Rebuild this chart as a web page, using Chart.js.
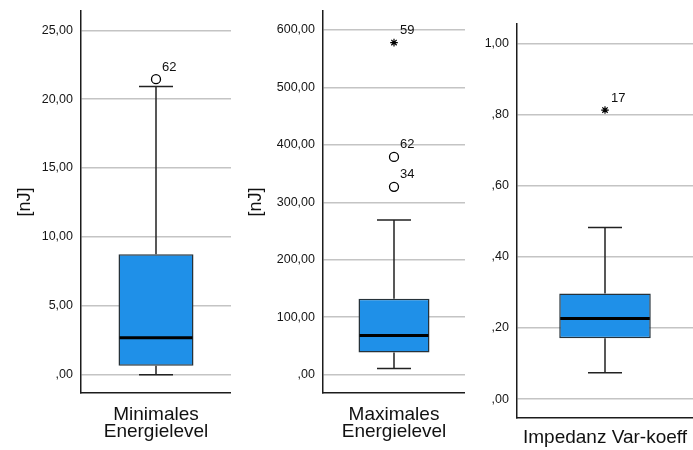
<!DOCTYPE html>
<html lang="de">
<head>
  <meta charset="UTF-8" />
  <title>Energielevel und Impedanz</title>
  <script src="https://cdn.jsdelivr.net/npm/chart.js"></script>
  <style>
    body {
      margin: 0;
      background: #ffffff;
      font-family: "Liberation Sans", Arial, sans-serif;
    }
    .panel {
      position: absolute;
      top: 0;
      height: 450px;
    }
    #p1 { left: 0; width: 231px; }
    #p2 { left: 231px; width: 234px; }
    #p3 { left: 465px; width: 228px; }
  </style>
</head>
<body>
  <div class="panel" id="p1"><canvas id="chartMin"></canvas></div>
  <div class="panel" id="p2"><canvas id="chartMax"></canvas></div>
  <div class="panel" id="p3"><canvas id="chartImp"></canvas></div>

  <script>
    // variables
    const categories = [["Minimales", "Energielevel"], ["Maximales", "Energielevel"], "Impedanz Var-koeff"];
    const axisTitles = ["[nJ]", "[nJ]", ""];

    // box statistics per variable
    const whiskerLow = [0, 10.5, 0.074];
    const q1 = [0.65, 38.3, 0.171];
    const median = [2.68, 68, 0.227];
    const q3 = [8.75, 131.9, 0.297];
    const whiskerHigh = [20.92, 269, 0.483];

    // outliers (case number, value, marker)
    const outliersMin = [{ id: "62", value: 21.45, style: "circle" }];
    const outliersMax = [
      { id: "59", value: 578, style: "star" },
      { id: "62", value: 379, style: "circle" },
      { id: "34", value: 327, style: "circle" }
    ];
    const outliersImp = [{ id: "17", value: 0.813, style: "star" }];

    // y axis ticks and ranges
    const ticksMin = [0, 5, 10, 15, 20, 25];
    const ticksMax = [0, 100, 200, 300, 400, 500, 600];
    const ticksImp = [0, 0.2, 0.4, 0.6, 0.8, 1.0];
    const rangeMin = [-1.33, 26.4];
    const rangeMax = [-32, 633];
    const rangeImp = [-0.053, 1.055];

    const FONT = "'Liberation Sans', Arial, sans-serif";
    const BOX_FILL = "#1f90e8";
    const BOX_EDGE = "#26323a";

    // SPSS-style German number format: ",20" / "5,00"
    function fmt(v) {
      let s = v.toFixed(2).replace(".", ",");
      if (s.startsWith("0,")) s = s.slice(1);
      return s;
    }

    // whiskers, caps, median line and outlier case labels
    const boxParts = {
      id: "boxParts",
      beforeDatasetsDraw(chart, args, opts) {
        const bar = chart.getDatasetMeta(0).data[0];
        const y = chart.scales.y;
        const ctx = chart.ctx;
        const half = opts.capWidth / 2;
        ctx.save();
        ctx.strokeStyle = "#222222";
        ctx.lineWidth = 1.5;
        ctx.beginPath();
        ctx.moveTo(bar.x, y.getPixelForValue(opts.q3));
        ctx.lineTo(bar.x, y.getPixelForValue(opts.high));
        ctx.moveTo(bar.x, y.getPixelForValue(opts.q1));
        ctx.lineTo(bar.x, y.getPixelForValue(opts.low));
        ctx.moveTo(bar.x - half, y.getPixelForValue(opts.high));
        ctx.lineTo(bar.x + half, y.getPixelForValue(opts.high));
        ctx.moveTo(bar.x - half, y.getPixelForValue(opts.low));
        ctx.lineTo(bar.x + half, y.getPixelForValue(opts.low));
        ctx.stroke();
        ctx.restore();
      },
      afterDatasetsDraw(chart, args, opts) {
        const bar = chart.getDatasetMeta(0).data[0];
        const y = chart.scales.y;
        const ctx = chart.ctx;
        ctx.save();
        ctx.strokeStyle = "#000000";
        ctx.lineWidth = 3;
        ctx.beginPath();
        const my = y.getPixelForValue(opts.median);
        ctx.moveTo(bar.x - bar.width / 2 + 1, my);
        ctx.lineTo(bar.x + bar.width / 2 - 1, my);
        ctx.stroke();

        ctx.fillStyle = "#111111";
        ctx.font = "13px " + FONT;
        ctx.textAlign = "left";
        ctx.textBaseline = "middle";
        opts.outliers.forEach((o, i) => {
          const p = chart.getDatasetMeta(i + 1).data[0];
          ctx.fillText(o.id, p.x + 6, p.y - 12);
        });
        ctx.restore();
      }
    };

    function makePanel(canvasId, idx, ticks, range, outliers, opt) {
      const datasets = [{
        type: "bar",
        data: [[q1[idx], q3[idx]]],
        backgroundColor: BOX_FILL,
        borderColor: BOX_EDGE,
        borderWidth: 1.5,
        borderSkipped: false,
        barPercentage: opt.barPct,
        categoryPercentage: 1
      }];
      outliers.forEach(o => {
        const star = o.style === "star";
        datasets.push({
          type: "line",
          data: [o.value],
          showLine: false,
          pointStyle: o.style,
          pointRadius: star ? 3.8 : 4.5,
          pointBackgroundColor: "#ffffff",
          pointBorderColor: "#000000",
          pointBorderWidth: star ? 1.2 : 1.3
        });
      });

      new Chart(document.getElementById(canvasId), {
        type: "bar",
        data: { labels: [categories[idx]], datasets },
        options: {
          responsive: true,
          maintainAspectRatio: false,
          animation: false,
          layout: {
            autoPadding: false,
            padding: { top: opt.top, right: 0, left: 0, bottom: 0 }
          },
          plugins: {
            legend: { display: false },
            tooltip: { enabled: false },
            boxParts: {
              low: whiskerLow[idx], q1: q1[idx], median: median[idx],
              q3: q3[idx], high: whiskerHigh[idx],
              capWidth: 34, outliers
            }
          },
          scales: {
            x: {
              grid: { display: false, drawTicks: false },
              border: { color: "#1c1c1c", width: 1.5 },
              ticks: {
                font: { family: FONT, size: 19, lineHeight: 0.92 },
                color: "#111111",
                padding: opt.xPad
              },
              afterFit: s => {
                s.height = opt.xHeight;
                s.paddingLeft = 0;
                s.paddingRight = 0;
              }
            },
            y: {
              min: range[0],
              max: range[1],
              afterBuildTicks: s => { s.ticks = ticks.map(v => ({ value: v })); },
              afterFit: s => {
                s.width = opt.yWidth;
                s.paddingTop = 0;
                s.paddingBottom = 0;
              },
              grid: { color: "#c4c4c4", lineWidth: 1.5, drawTicks: false },
              border: { color: "#1c1c1c", width: 1.5 },
              ticks: {
                callback: v => fmt(v),
                font: { family: FONT, size: 12.5 },
                color: "#151515",
                padding: 8
              },
              title: {
                display: axisTitles[idx] !== "",
                text: axisTitles[idx],
                font: { family: FONT, size: 18 },
                color: "#111111",
                padding: { top: 14, bottom: 0 }
              }
            }
          }
        },
        plugins: [boxParts]
      });
    }

    makePanel("chartMin", 0, ticksMin, rangeMin, outliersMin,
      { top: 11, xHeight: 57, yWidth: 81, barPct: 0.5, xPad: 13 });
    makePanel("chartMax", 1, ticksMax, rangeMax, outliersMax,
      { top: 11, xHeight: 57, yWidth: 92, barPct: 0.5, xPad: 13 });
    makePanel("chartImp", 2, ticksImp, rangeImp, outliersImp,
      { top: 24, xHeight: 32, yWidth: 52, barPct: 0.52, xPad: 11 });
  </script>
</body>
</html>
